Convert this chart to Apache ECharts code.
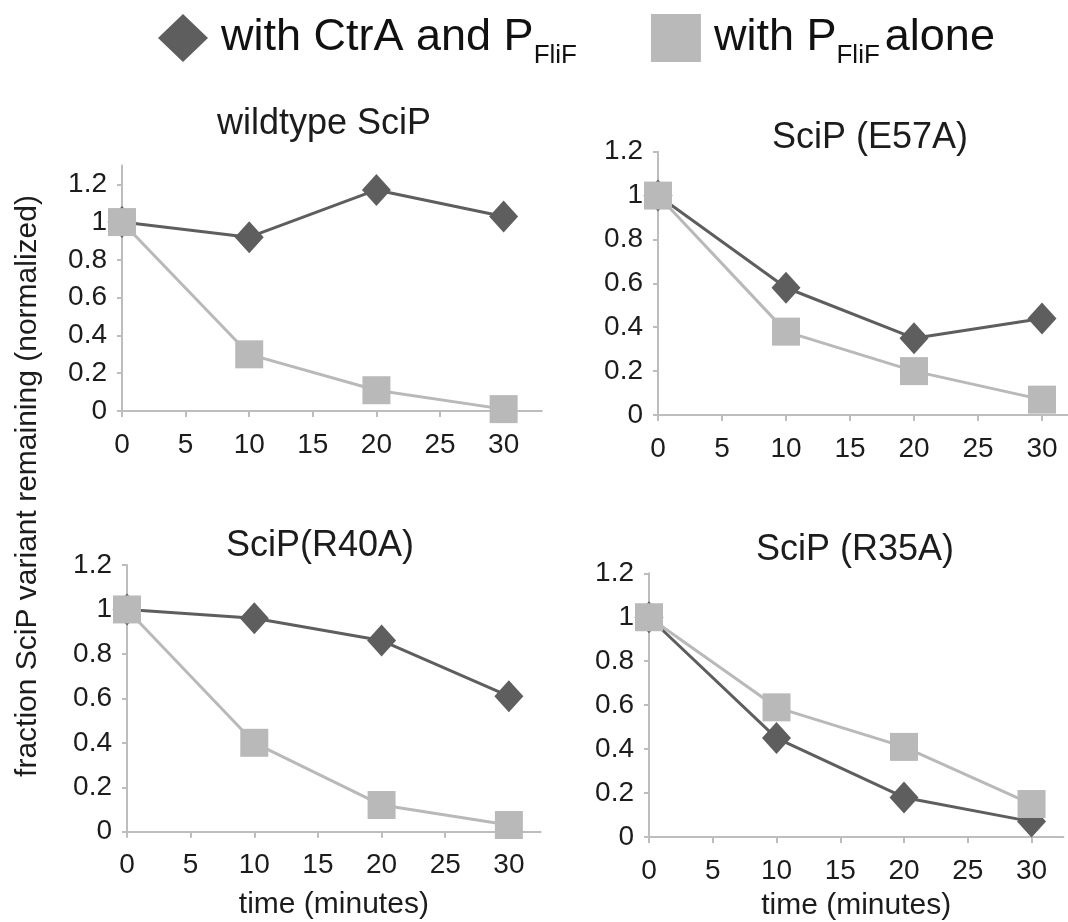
<!DOCTYPE html>
<html>
<head>
<meta charset="utf-8">
<script src="https://cdn.jsdelivr.net/npm/echarts@6/dist/echarts.min.js"></script>
<style>
html,body{margin:0;padding:0;background:#fff;}
#c{width:1068px;height:922px;}
</style>
</head>
<body>
<div id="c"></div>
<script>
// ---- data ----
const times = [0, 10, 20, 30];
const panelTitles = ['wildtype SciP', 'SciP (E57A)', 'SciP(R40A)', 'SciP (R35A)'];
const seriesNames = ['with CtrA and P_FliF', 'with P_FliF alone'];
const withCtrA_wildtype = [1, 0.92, 1.17, 1.03];
const alone_wildtype    = [1, 0.30, 0.11, 0.01];
const withCtrA_E57A     = [1, 0.58, 0.35, 0.44];
const alone_E57A        = [1, 0.38, 0.20, 0.07];
const withCtrA_R40A     = [1, 0.96, 0.86, 0.61];
const alone_R40A        = [1, 0.40, 0.12, 0.03];
const withCtrA_R35A     = [1, 0.45, 0.18, 0.07];
const alone_R35A        = [1, 0.59, 0.41, 0.15];
const xTickValues = [0, 5, 10, 15, 20, 25, 30];
const yTickValues = [0, 0.2, 0.4, 0.6, 0.8, 1, 1.2];
const yAxisTitle = 'fraction SciP variant remaining (normalized)';
const xAxisTitle = 'time (minutes)';

// ---- layout / style ----
const FONT = '"Liberation Sans", Arial, Helvetica, sans-serif';
const DARK = '#5e5e5e';
const LIGHT = '#b9b9b9';
const AXIS = '#bdbdbd';
const TXT = '#1c1c1c';

const panelData = [
  [withCtrA_wildtype, alone_wildtype],
  [withCtrA_E57A, alone_E57A],
  [withCtrA_R40A, alone_R40A],
  [withCtrA_R35A, alone_R35A]
];
const grids = [
  {left: 122, top: 165.4, width: 419.8, height: 245.6, xMax: 33, yMax: 1.3},
  {left: 658, top: 151.7, width: 409.6, height: 263.3, xMax: 32, yMax: 1.2},
  {left: 127, top: 565, width: 413.7, height: 266.7, xMax: 32.5, yMax: 1.2},
  {left: 649, top: 573.3, width: 414.4, height: 265, xMax: 32.5, yMax: 1.2}
];
const titlePos = [[324, 124], [870, 138], [320, 546.5], [855, 550.5]];
const xNameGap = [0, 0, 58, 54];

const option = {
  backgroundColor: '#fff',
  animation: false,
  legend: {
    left: 153, top: 9,
    itemWidth: 50, itemHeight: 48, itemGap: 74,
    data: [
      {name: seriesNames[0], icon: 'diamond', itemStyle: {color: DARK}},
      {name: seriesNames[1], icon: 'rect', itemStyle: {color: LIGHT}}
    ],
    formatter: function (name) {
      const parts = name.split('_');
      const rest = parts[1].split(' ');
      const sub = rest.shift();
      let s = '{a|' + parts[0] + '}{s|' + sub + '}';
      if (rest.length) s += '{b|' + rest.join(' ') + '}';
      return s;
    },
    textStyle: {
      color: '#111',
      fontFamily: FONT,
      rich: {
        a: {fontSize: 45, lineHeight: 62, fontFamily: FONT, color: '#111', padding: [0, 0, 0, 8]},
        b: {fontSize: 45, lineHeight: 62, fontFamily: FONT, color: '#111', padding: [0, 0, 0, 5]},
        s: {fontSize: 26, lineHeight: 24, verticalAlign: 'bottom', fontFamily: FONT, color: '#111'}
      }
    }
  },
  grid: grids.map(g => ({left: g.left, top: g.top, width: g.width, height: g.height})),
  xAxis: grids.map((g, i) => ({
    gridIndex: i, type: 'value', min: 0, max: g.xMax,
    name: i >= 2 ? xAxisTitle : '',
    nameLocation: 'middle', nameGap: xNameGap[i],
    nameTextStyle: {fontSize: 30, fontFamily: FONT, color: TXT},
    axisLine: {show: true, onZero: false, lineStyle: {color: AXIS, width: 2}},
    axisTick: {show: true, length: 6, customValues: xTickValues, lineStyle: {color: AXIS, width: 2}},
    axisLabel: {customValues: xTickValues, fontSize: 28, fontFamily: FONT, color: TXT, margin: 20},
    splitLine: {show: false}
  })),
  yAxis: grids.map((g, i) => ({
    gridIndex: i, type: 'value', min: 0, max: g.yMax,
    axisLine: {show: true, lineStyle: {color: AXIS, width: 2}},
    axisTick: {show: true, length: 5, customValues: yTickValues, lineStyle: {color: AXIS, width: 2}},
    axisLabel: {customValues: yTickValues, fontSize: 28, fontFamily: FONT, color: TXT, margin: 15},
    splitLine: {show: false}
  })),
  series: [],
  graphic: []
};

panelData.forEach((pair, i) => {
  option.series.push({
    name: seriesNames[0], type: 'line', xAxisIndex: i, yAxisIndex: i,
    data: times.map((t, k) => [t, pair[0][k]]),
    symbol: 'diamond', symbolSize: [29, 32],
    lineStyle: {color: DARK, width: 3},
    itemStyle: {color: DARK},
    z: 2
  });
  option.series.push({
    name: seriesNames[1], type: 'line', xAxisIndex: i, yAxisIndex: i,
    data: times.map((t, k) => [t, pair[1][k]]),
    symbol: 'rect', symbolSize: 28,
    lineStyle: {color: LIGHT, width: 3},
    itemStyle: {color: LIGHT},
    z: 3
  });
  option.graphic.push({
    type: 'text', x: titlePos[i][0], y: titlePos[i][1],
    style: {text: panelTitles[i], font: '36px ' + FONT, fill: TXT, align: 'center', verticalAlign: 'middle'}
  });
});

option.graphic.push({
  type: 'text', x: 28, y: 486, rotation: Math.PI / 2,
  style: {text: yAxisTitle, font: '30px ' + FONT, fill: TXT, align: 'center', verticalAlign: 'middle'}
});

const chart = echarts.init(document.getElementById('c'), null, {renderer: 'canvas'});
chart.setOption(option);
</script>
</body>
</html>
